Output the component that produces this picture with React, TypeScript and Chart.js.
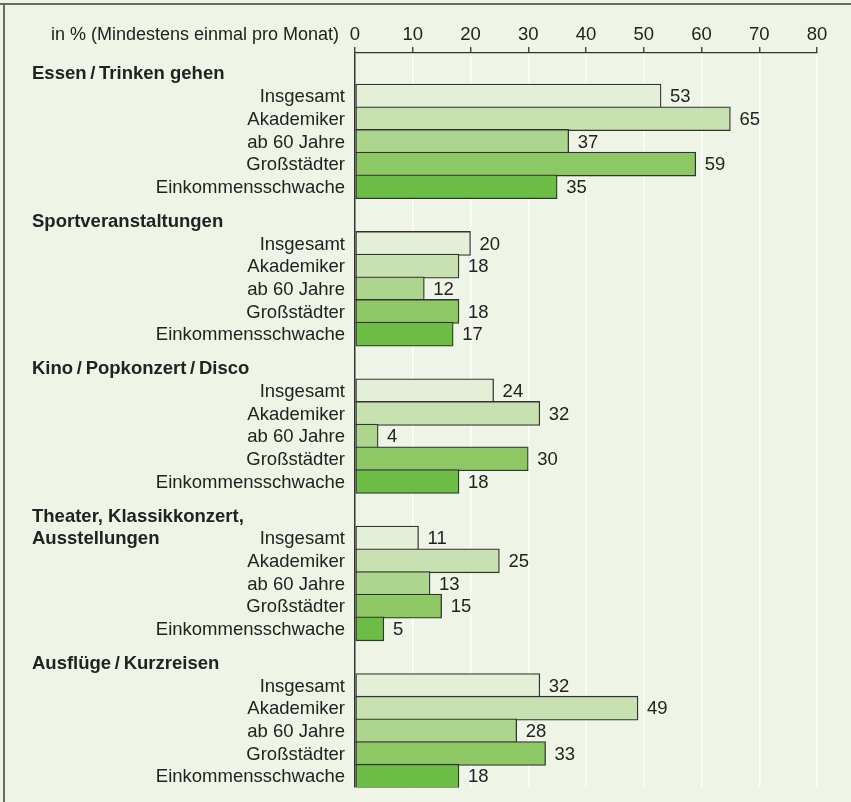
import React, { useEffect, useRef } from "react";
import { Chart, registerables } from "chart.js";

Chart.register(...registerables);

const subLabels = ["Insgesamt", "Akademiker", "ab 60 Jahre", "Großstädter", "Einkommensschwache"];
const groupTitles = [
  ["Essen\u2009/\u2009Trinken gehen"],
  ["Sportveranstaltungen"],
  ["Kino\u2009/\u2009Popkonzert\u2009/\u2009Disco"],
  ["Theater, Klassikkonzert,", "Ausstellungen"],
  ["Ausflüge\u2009/\u2009Kurzreisen"],
];
const essenValues = [53, 65, 37, 59, 35];
const sportValues = [20, 18, 12, 18, 17];
const kinoValues = [24, 32, 4, 30, 18];
const theaterValues = [11, 25, 13, 15, 5];
const ausfluegeValues = [32, 49, 28, 33, 18];
const groupValues = [essenValues, sportValues, kinoValues, theaterValues, ausfluegeValues];
const axisTitle = "in % (Mindestens einmal pro Monat)";
const xMin = 0;
const xMax = 80;
const xStep = 10;

const barColors = ["#e3efd6", "#c7e2b0", "#acd68d", "#8ec865", "#6cbd45"];
const GROUP_STEP = 6.5;
const FONT = "'Liberation Sans', Arial, Helvetica, sans-serif";
const FS = 18.5;
const TEXT = "#222222";
const DARK = "#333333";

const points: { x: number; y: number; s: number }[] = [];
groupValues.forEach((vals, g) => {
  vals.forEach((v, j) => {
    points.push({ x: v, y: g * GROUP_STEP + j, s: j });
  });
});

const decorPlugin = {
  id: "decor",
  beforeDraw(chart: any) {
    const { ctx, width, height } = chart;
    ctx.save();
    ctx.fillStyle = "#eef5e6";
    ctx.fillRect(0, 0, width, height);
    ctx.strokeStyle = "#6a6a6a";
    ctx.lineWidth = 2;
    ctx.beginPath();
    ctx.moveTo(0, 4);
    ctx.lineTo(width, 4);
    ctx.moveTo(4, 3);
    ctx.lineTo(4, height);
    ctx.stroke();
    ctx.restore();
  },
  afterDatasetsDraw(chart: any) {
    const { ctx } = chart;
    const yScale = chart.scales.y;
    const xScale = chart.scales.x;
    ctx.save();
    ctx.fillStyle = TEXT;
    ctx.textBaseline = "middle";
    // axis title
    ctx.font = `18px ${FONT}`;
    ctx.textAlign = "right";
    ctx.fillText(axisTitle, xScale.left - 16, 35);
    // category labels
    groupValues.forEach((vals, g) => {
      vals.forEach((_, j) => {
        const y = yScale.getPixelForValue(g * GROUP_STEP + j);
        ctx.font = `${FS}px ${FONT}`;
        ctx.textAlign = "right";
        ctx.fillText(subLabels[j], xScale.left - 10, y + 1);
      });
      groupTitles[g].forEach((line, i) => {
        const y = yScale.getPixelForValue(g * GROUP_STEP - 1 + i);
        ctx.font = `bold ${FS}px ${FONT}`;
        ctx.textAlign = "left";
        ctx.fillText(line, 32, y + 1);
      });
    });
    // value labels
    const meta = chart.getDatasetMeta(0);
    ctx.font = `${FS}px ${FONT}`;
    ctx.textAlign = "left";
    meta.data.forEach((el: any, i: number) => {
      ctx.fillText(String(points[i].x), el.x + 9, el.y + 1);
    });
    ctx.restore();
  },
};

export default function App() {
  const ref = useRef<HTMLCanvasElement>(null);
  useEffect(() => {
    document.body.style.margin = "0";
    const chart = new Chart(ref.current!, {
      type: "bar",
      data: {
        datasets: [
          {
            data: points as any,
            backgroundColor: points.map((p) => barColors[p.s]),
            borderColor: DARK,
            borderWidth: 1.3,
            borderSkipped: false,
            barThickness: 24,
          } as any,
        ],
      },
      options: {
        indexAxis: "y",
        responsive: false,
        animation: false,
        devicePixelRatio: 1,
        layout: { padding: { top: 0, left: 355, right: 34, bottom: 14.5 } },
        plugins: { legend: { display: false }, tooltip: { enabled: false } },
        scales: {
          x: {
            type: "linear",
            position: "top",
            min: xMin,
            max: xMax,
            afterFit: (s: any) => {
              s.height = 53;
            },
            ticks: {
              stepSize: xStep,
              color: TEXT,
              font: { family: FONT, size: FS },
              padding: 1,
            },
            grid: {
              color: (c: any) => (c.tick && c.tick.value === 0 ? DARK : "#ffffff"),
              lineWidth: 1.5,
              tickLength: 6,
              tickColor: DARK,
              tickWidth: 1.3,
            },
            border: { display: true, color: DARK, width: 1.3 },
          },
          y: {
            type: "linear",
            display: false,
            reverse: true,
            offset: false,
            min: -1.9,
            max: 30.5,
          },
        },
      } as any,
      plugins: [decorPlugin],
    });
    return () => chart.destroy();
  }, []);
  return <canvas ref={ref} width={851} height={802} style={{ display: "block" }} />;
}
